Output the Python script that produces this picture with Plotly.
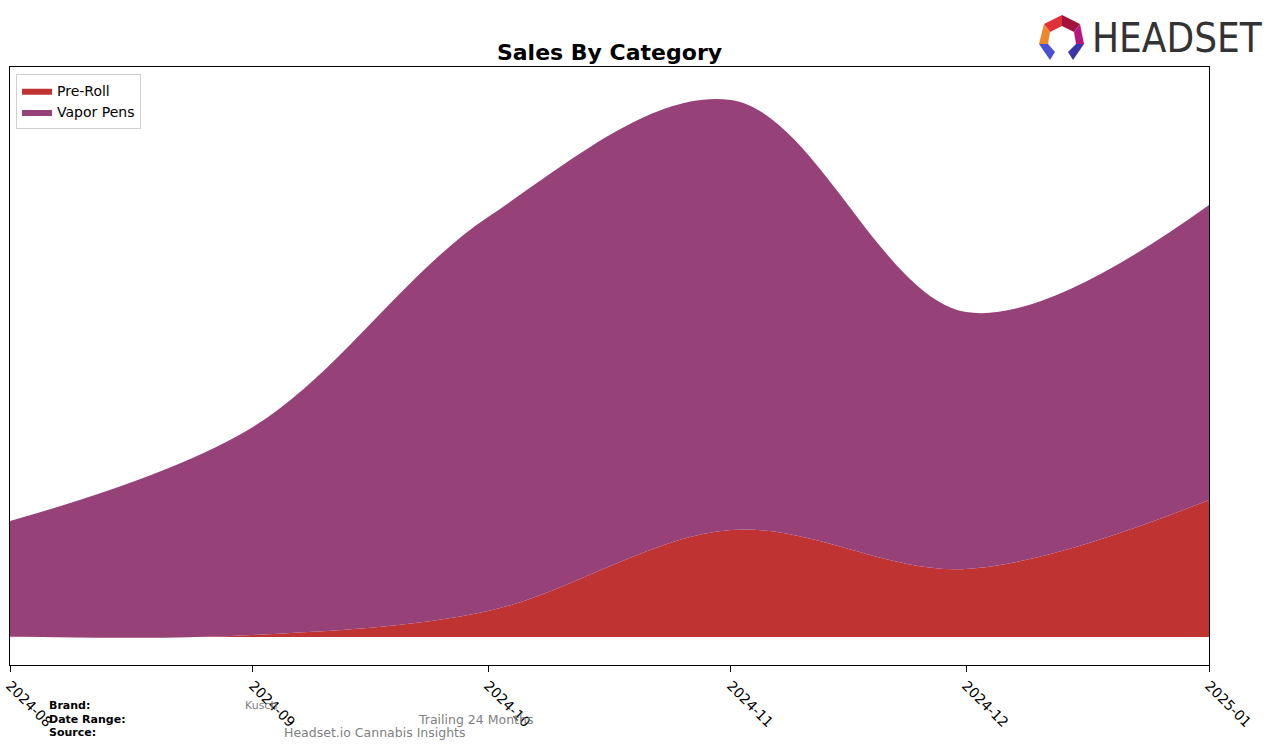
import plotly.graph_objects as go

# monthly sales (arbitrary units)
months = ["2024-08-01", "2024-09-01", "2024-10-01", "2024-11-01", "2024-12-01", "2025-01-01"]
tick_labels = ["2024-08", "2024-09", "2024-10", "2024-11", "2024-12", "2025-01"]
pre_roll = [0.5, 2, 26, 107, 68, 137]
vapor_pens = [115.5, 208, 394, 430, 257, 295]

W, H = 1276, 748
L, R, T, B = 10, 1209, 67, 665


def px2paper(x, y):
    return (x - L) / (R - L), (B - y) / (B - T)


def poly(points):
    pts = [px2paper(x, y) for x, y in points]
    return "M " + " L ".join(f"{x:.5f},{y:.5f}" for x, y in pts) + " Z"


fig = go.Figure()
fig.add_trace(go.Scatter(
    x=months, y=pre_roll, name="Pre-Roll", stackgroup="one",
    mode="lines", line=dict(width=0, shape="spline", smoothing=1.0, color="#C03333"),
    fillcolor="#C03333",
))
fig.add_trace(go.Scatter(
    x=months, y=vapor_pens, name="Vapor Pens", stackgroup="one",
    mode="lines", line=dict(width=0, shape="spline", smoothing=1.0, color="#964279"),
    fillcolor="#964279",
))

fig.update_layout(
    width=W, height=H,
    margin=dict(l=L, r=W - R, t=T, b=H - B, autoexpand=False),
    paper_bgcolor="white", plot_bgcolor="white",
    font=dict(family="DejaVu Sans", size=14, color="black"),
    title=dict(text="<b>Sales By Category</b>", x=(L + R) / 2 / W, xanchor="center",
               y=1 - 52 / H, yanchor="middle", font=dict(size=22)),
    showlegend=True,
    legend=dict(x=0.005, y=0.988, xanchor="left", yanchor="top",
                bordercolor="#d0d0d0", borderwidth=1, bgcolor="white",
                font=dict(size=14), traceorder="normal", tracegroupgap=0),
)
fig.update_xaxes(
    type="date", range=[months[0], months[-1]], automargin=False,
    tickvals=months, ticktext=tick_labels, tickangle=45,
    ticks="outside", ticklen=6, tickcolor="black",
    showline=True, linecolor="black", linewidth=1, mirror=True,
    showgrid=False, zeroline=False, tickfont=dict(size=14),
)
fig.update_yaxes(
    range=[-28, 570], showticklabels=False, ticks="", automargin=False,
    showline=True, linecolor="black", linewidth=1, mirror=True,
    showgrid=False, zeroline=False,
)

# footer (positions in page pixels)
footer = [
    ("<b>Brand:</b>", 47, 705, 11, "black"),
    ("<b>Date Range:</b>", 47, 719, 11, "black"),
    ("<b>Source:</b>", 47, 732, 11, "black"),
    ("Kusch", 243, 705, 11, "#808080"),
    ("Trailing 24 Months", 416, 719, 12.5, "#808080"),
    ("Headset.io Cannabis Insights", 282, 732, 12.5, "#808080"),
]
for text, x, y, size, color in footer:
    ax, ay = px2paper(x, y)
    fig.add_annotation(text=text, x=ax, y=ay, xref="paper", yref="paper",
                       xanchor="left", yanchor="middle", showarrow=False,
                       font=dict(size=size, color=color))

# logo
lx, ly = px2paper(1090, 38)
fig.add_annotation(text="HEADSET", x=lx, y=ly, xref="paper", yref="paper",
                   xanchor="left", yanchor="middle", showarrow=False,
                   font=dict(family="DejaVu Sans Condensed, DejaVu Sans", size=40, color="#333333"))
logo_parts = [
    ([(1044, 24), (1062, 15), (1062, 26), (1050, 32)], "#E0303A"),
    ([(1062, 15), (1080, 24), (1074, 32), (1062, 26)], "#A3123A"),
    ([(1080, 24), (1084, 44), (1076, 44), (1074, 32)], "#B8157E"),
    ([(1044, 24), (1050, 32), (1048, 44), (1039, 44)], "#F0862A"),
    ([(1039, 44), (1048, 44), (1055, 52), (1050, 60)], "#4B4FD0"),
    ([(1076, 44), (1084, 44), (1073, 60), (1068, 52)], "#3A35A8"),
]
for pts, color in logo_parts:
    fig.add_shape(type="path", path=poly(pts), xref="paper", yref="paper",
                  fillcolor=color, line=dict(width=0))

# the page body has a default 8px margin; drop it so the figure sits at 0,0
fig.write_html("out.html", config={"displayModeBar": False},
               post_script="document.body.style.margin='0';")
